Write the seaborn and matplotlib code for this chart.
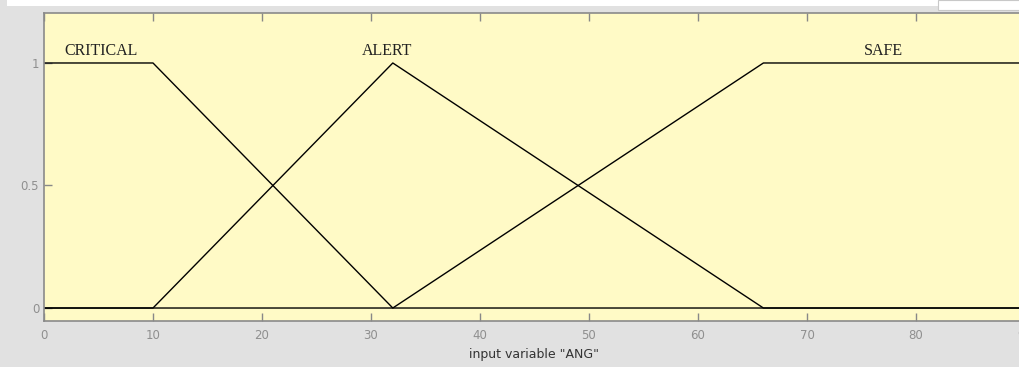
import matplotlib
matplotlib.use("Agg")
import matplotlib.pyplot as plt
import seaborn as sns
import pandas as pd
from matplotlib.patches import Rectangle

sets = ["CRITICAL", "ALERT", "SAFE"]
critical_x = [0, 10, 32, 90]
critical_y = [1, 1, 0, 0]
alert_x = [0, 10, 32, 66, 90]
alert_y = [0, 0, 1, 0, 0]
safe_x = [0, 32, 66, 90]
safe_y = [0, 0, 1, 1]
label_x = [5.2, 31.5, 77.0]
xticks = [0, 10, 20, 30, 40, 50, 60, 70, 80, 90]
yticks = [0, 0.5, 1]
ytick_labels = ["0", "0.5", "1"]
xlabel = 'input variable "ANG"'

rows = []
for name, xs, ys in zip(sets, [critical_x, alert_x, safe_x], [critical_y, alert_y, safe_y]):
    for i, (a, b) in enumerate(zip(xs, ys)):
        rows.append({"set": name, "order": i, "x": a, "mu": b})
df = pd.DataFrame(rows)

sns.set_style("white")
fig = plt.figure(figsize=(10.2, 3.67), dpi=100)
fig.patch.set_facecolor("#e1e1e1")
fig.patches.append(Rectangle((0.007, 0.985), 0.993, 0.015, transform=fig.transFigure,
                             facecolor="white", edgecolor="none", zorder=0))
fig.patches.append(Rectangle((0.92, 0.972), 0.08, 0.028, transform=fig.transFigure,
                             facecolor="white", edgecolor="#c8c8c8", lw=0.8, zorder=0))
ax = fig.add_axes([44 / 1020, 46 / 367, 981 / 1020, 308 / 367])
ax.set_facecolor("#fffac6")

for name in sets:
    sub = df[df["set"] == name]
    sns.lineplot(data=sub, x="x", y="mu", sort=False, estimator=None, color="black",
                 lw=1.0, ax=ax, legend=False)

for name, lx in zip(sets, label_x):
    ax.text(lx, 1.018, name, ha="center", va="bottom", family="Liberation Serif",
            fontsize=11.5, color="#222222")

ax.set_xlim(0, 90)
ax.set_ylim(-0.053, 1.204)
ax.set_xticks(xticks)
ax.set_xticklabels([str(t) for t in xticks])
ax.set_yticks(yticks)
ax.set_yticklabels(ytick_labels)
ax.tick_params(axis="both", direction="in", length=6, width=1, colors="#888888",
               labelsize=8.5, labelcolor="#8f8f8f", top=True, bottom=True, left=True, right=False)
ax.tick_params(axis="x", pad=6)
for s in ax.spines.values():
    s.set_color("#8a8a8a")
    s.set_linewidth(1.2)
ax.set_xlabel(xlabel, fontsize=9, color="#333333", labelpad=4)
ax.set_ylabel("")
fig.savefig("out.png", dpi=100, facecolor=fig.get_facecolor())
